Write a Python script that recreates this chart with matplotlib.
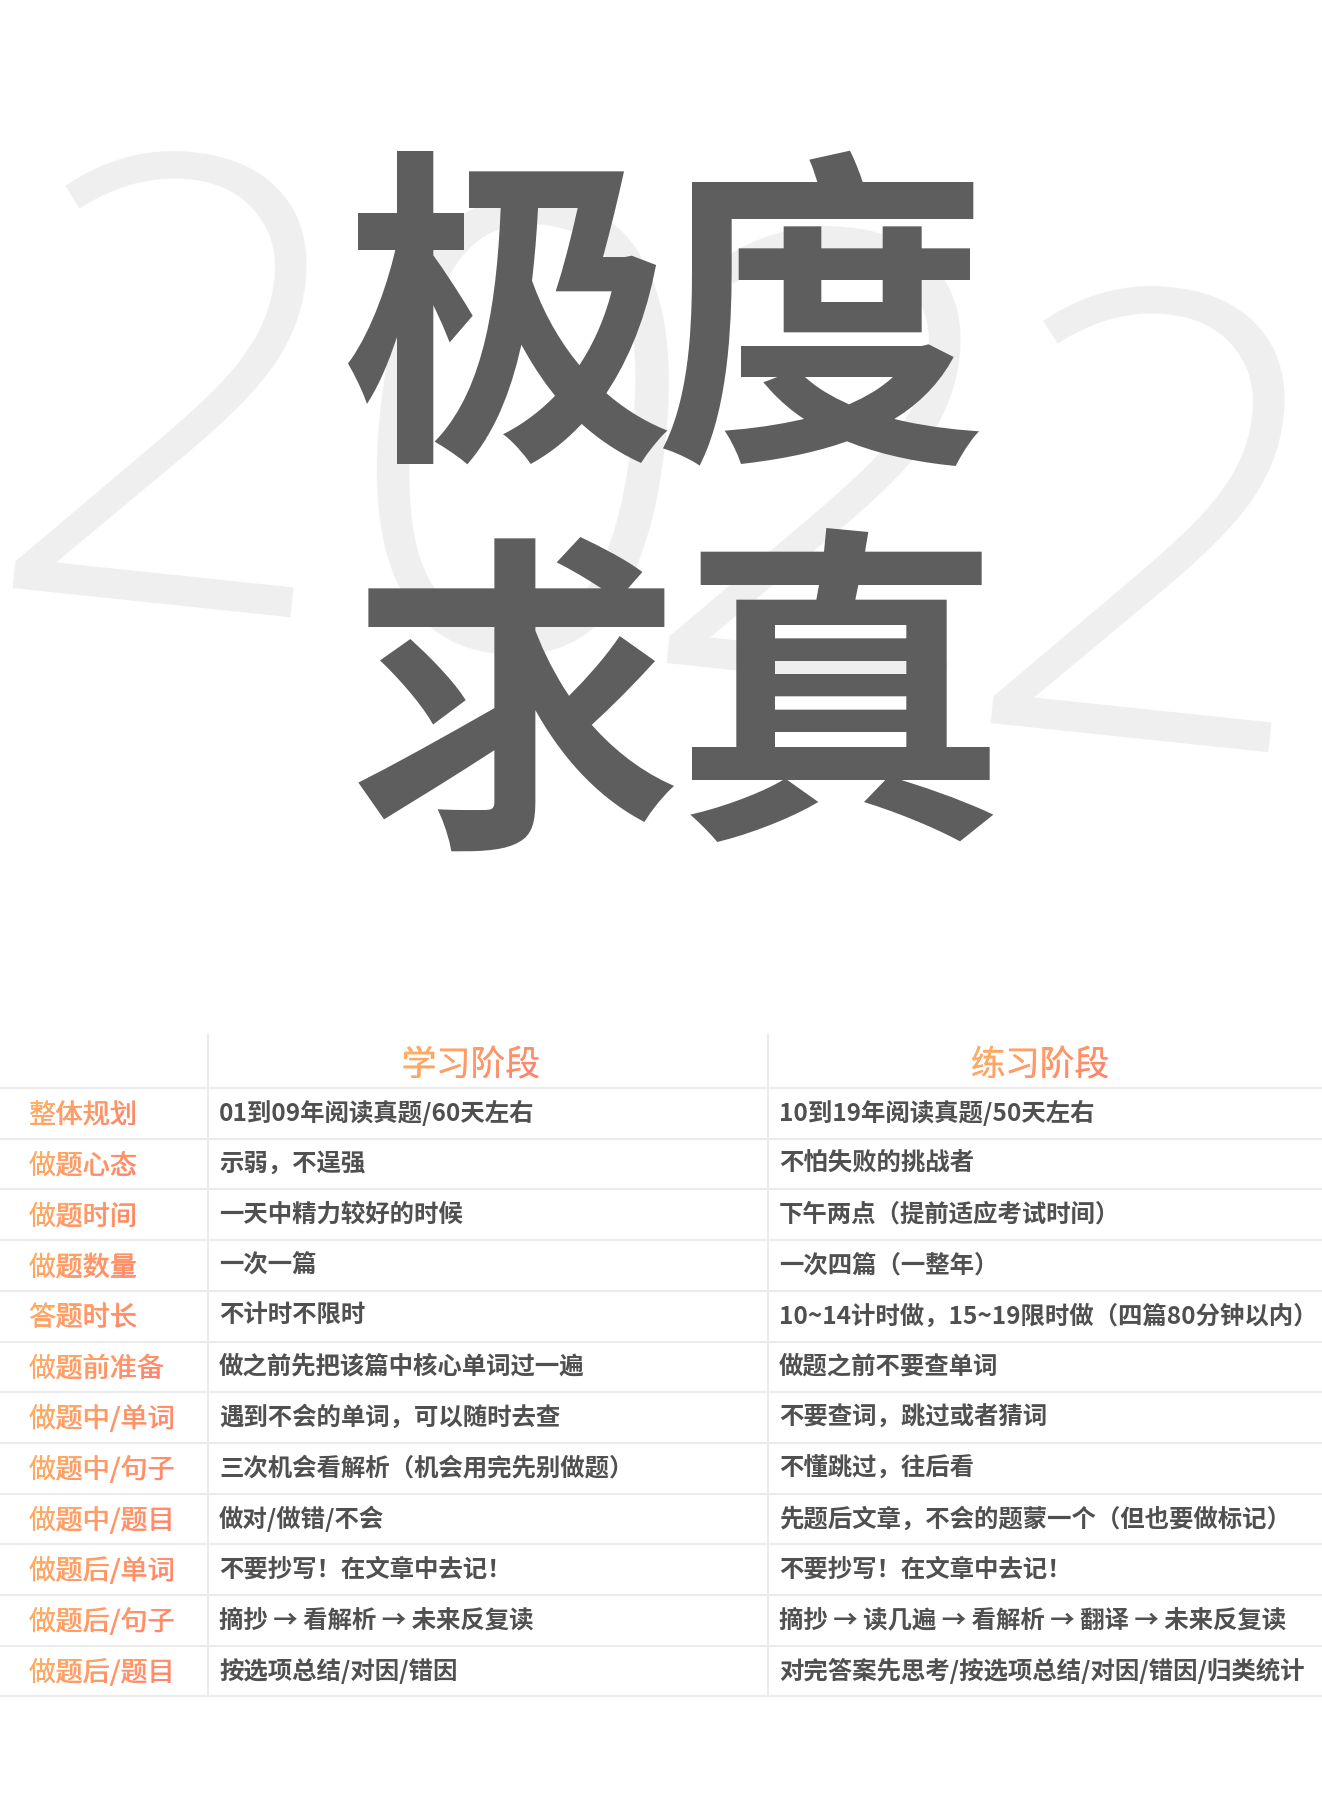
import matplotlib
matplotlib.use("Agg")
import matplotlib.pyplot as plt
import numpy as np
from matplotlib.font_manager import FontProperties
from matplotlib.patches import PathPatch
from matplotlib.textpath import TextPath
from matplotlib.transforms import Affine2D
from matplotlib.colors import to_rgb

plt.rcParams['font.family'] = ['Noto Sans CJK SC', 'DejaVu Sans']

# ---- data ----
year_digits = ["2", "0", "2", "2"]
title_chars = ["极", "度", "求", "真"]
col_headers = ["学习阶段", "练习阶段"]
row_labels = ["整体规划", "做题心态", "做题时间", "做题数量", "答题时长", "做题前准备",
              "做题中/单词", "做题中/句子", "做题中/题目", "做题后/单词", "做题后/句子", "做题后/题目"]
study_stage = ["01到09年阅读真题/60天左右", "示弱，不逞强", "一天中精力较好的时候", "一次一篇",
               "不计时不限时", "做之前先把该篇中核心单词过一遍", "遇到不会的单词，可以随时去查",
               "三次机会看解析（机会用完先别做题）", "做对/做错/不会", "不要抄写！在文章中去记！",
               "摘抄 → 看解析 → 未来反复读", "按选项总结/对因/错因"]
practice_stage = ["10到19年阅读真题/50天左右", "不怕失败的挑战者", "下午两点（提前适应考试时间）",
                  "一次四篇（一整年）", "10~14计时做，15~19限时做（四篇80分钟以内）", "做题之前不要查单词",
                  "不要查词，跳过或者猜词", "不懂跳过，往后看", "先题后文章，不会的题蒙一个（但也要做标记）",
                  "不要抄写！在文章中去记！", "摘抄 → 读几遍 → 看解析 → 翻译 → 未来反复读",
                  "对完答案先思考/按选项总结/对因/错因/归类统计"]

W, H = 1322, 1816
DPI = 100
fig = plt.figure(figsize=(W / DPI, H / DPI), dpi=DPI)
ax = fig.add_axes([0, 0, 1, 1])
ax.set_xlim(0, W); ax.set_ylim(H, 0); ax.axis("off")

ORANGE_A, ORANGE_B = to_rgb("#ffb35e"), to_rgb("#ff8070")


def gradient_text(x, y, s, size, ha="left"):
    """real text, with an orange gradient laid over it (clipped to the glyphs)"""
    fp = FontProperties(family="Noto Sans CJK SC", size=size)
    em = size * DPI / 72
    base = y + 0.36 * em
    ax.text(x, base, s, fontproperties=fp, color="#ff9a66", ha=ha, va="baseline", zorder=3)
    tp = TextPath((0, 0), s, size=size, prop=fp)
    ext = tp.get_extents()
    x0 = x if ha == "left" else x - ext.width * DPI / 72 / 2 - ext.x0 * DPI / 72
    tr = Affine2D().scale(DPI / 72, -DPI / 72).translate(x0, base) + ax.transData
    bx0, bx1 = x0 + ext.x0 * DPI / 72, x0 + ext.x1 * DPI / 72
    by0, by1 = base - ext.y1 * DPI / 72, base - ext.y0 * DPI / 72
    u, v = np.meshgrid(np.linspace(0, 1, 48), np.linspace(0, 1, 16))
    t = np.clip(0.75 * u + 0.25 * v, 0, 1)[..., None]
    img = (1 - t) * np.array(ORANGE_A) + t * np.array(ORANGE_B)
    im = ax.imshow(img, extent=(bx0, bx1, by1, by0), interpolation="bilinear",
                   aspect="auto", zorder=4)
    im.set_clip_path(PathPatch(tp, transform=tr))


# background year, thin light grey, slightly tilted
digit_pos = [(172, 445), (516, 490), (826, 520), (1150, 580)]
for d, (x, y) in zip(year_digits, digit_pos):
    ax.text(x, y, d, fontsize=450, family=["Open Sans", "DejaVu Sans"], fontweight="light",
            color="#efefef", ha="center", va="center", rotation=-6, zorder=1)

# calligraphy title
char_pos = [(509, 337), (822, 339), (515, 724), (840, 715)]
for c, (x, y) in zip(title_chars, char_pos):
    ax.text(x, y, c, fontsize=240, fontweight="black", color="#5e5e5e",
            ha="center", va="center", zorder=2)

# table
line_c = "#ebebeb"
top, head_y, row_h = 1034, 1088, 50.7
n = len(row_labels)
bottom = head_y + n * row_h
for x in [208, 768]:
    ax.plot([x, x], [top, bottom], color=line_c, lw=1.3, zorder=1)
for i in range(n + 1):
    y = head_y + i * row_h
    ax.plot([0, W], [y, y], color=line_c, lw=1.5, zorder=1)

ax.set_xlim(0, W); ax.set_ylim(H, 0)

for txt, x in zip(col_headers, [471, 1040]):
    gradient_text(x, 1063, txt, 25, ha="center")

for i in range(n):
    yc = head_y + (i + 0.5) * row_h
    gradient_text(29, yc, row_labels[i], 19.5)
    ax.text(219, yc, study_stage[i], fontsize=17.6, color="#505050", fontweight="bold",
            ha="left", va="center")
    ax.text(779, yc, practice_stage[i], fontsize=17.6, color="#505050", fontweight="bold",
            ha="left", va="center")

ax.set_xlim(0, W); ax.set_ylim(H, 0)
fig.savefig("out.png", dpi=DPI, facecolor="white")
